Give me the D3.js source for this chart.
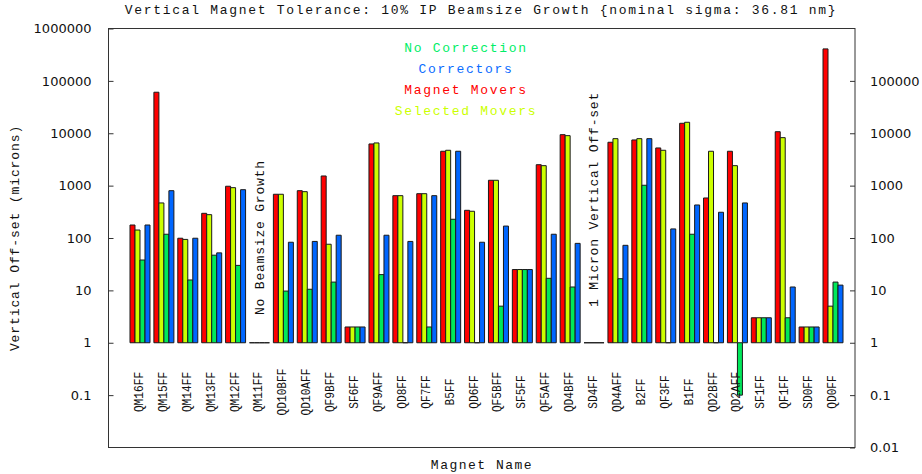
<!DOCTYPE html>
<html>
<head>
<meta charset="utf-8">
<script src="https://cdn.jsdelivr.net/npm/d3@7.9.0/dist/d3.min.js"></script>
<style>
  body { margin: 0; background: #fff; }
  svg { display: block; }
  .mono { font-family: "Liberation Mono", "DejaVu Sans Mono", monospace; }
  .tick text { font-family: "DejaVu Sans", sans-serif; font-size: 13px; fill: #111; }
</style>
</head>
<body>
<svg width="922" height="474"></svg>
<script>
// magnet names along the x axis
const magnets = ['QM16FF', 'QM15FF', 'QM14FF', 'QM13FF', 'QM12FF', 'QM11FF', 'QD10BFF', 'QD10AFF',
  'QF9BFF', 'SF6FF', 'QF9AFF', 'QD8FF', 'QF7FF', 'B5FF', 'QD6FF', 'QF5BFF', 'SF5FF', 'QF5AFF',
  'QD4BFF', 'SD4FF', 'QD4AFF', 'B2FF', 'QF3FF', 'B1FF', 'QD2BFF', 'QD2AFF', 'SF1FF', 'QF1FF',
  'SD0FF', 'QD0FF'];

// tolerances in microns
const magnetMovers = [177, 60700, 99, 296, 973, 1, 684, 801, 1528, 2, 6250, 643, 702, 4530, 338,
  1265, 25, 2510, 9400, 1, 6730, 7450, 5240, 15500, 581, 4530, 3, 10700, 2, 408000];
const selectedMovers = [142, 467, 94, 279, 914, 1, 684, 767, 76, 2, 6530, 643, 702, 4730, 324,
  1265, 25, 2405, 9000, 1, 7880, 7880, 4730, 16200, 4530, 2405, 3, 8240, 2, 5];
const noCorrection = [38, 118, 15.8, 47, 30, 1, 9.7, 10.5, 14.4, 2, 20, 1, 2, 228, 1,
  5, 25, 17, 11.6, 1, 16.7, 1016, 1, 118, 1, 0.1, 3, 3, 2, 14.4];
const correctors = [177, 801, 99, 52, 837, 1, 83, 86, 113, 2, 113, 86, 643, 4530, 83,
  169, 25, 118, 79, 1, 72.5, 7880, 149, 427, 310, 467, 3, 11.6, 2, 12.6];

const leftTicks = [1000000, 100000, 10000, 1000, 100, 10, 1, 0.1];
const rightTicks = [100000, 10000, 1000, 100, 10, 1, 0.1, 0.01];

// drawing order inside a group: left to right
const series = [
  { name: 'Magnet Movers', values: magnetMovers, color: '#ff0000' },
  { name: 'Selected Movers', values: selectedMovers, color: '#ccff00' },
  { name: 'No Correction', values: noCorrection, color: '#00e85a' },
  { name: 'Correctors', values: correctors, color: '#0066ff' }
];
// legend order top to bottom
const legendItems = [
  { name: 'No Correction', color: '#00ee66' },
  { name: 'Correctors', color: '#0a6cff' },
  { name: 'Magnet Movers', color: '#ff0000' },
  { name: 'Selected Movers', color: '#ccff00' }
];

const mLeft = 108.5, mRight = 855, mTop = 28.5, mBottom = 447.5;
const svg = d3.select('svg');

const y = d3.scaleLog().domain([0.01, 1000000]).range([mBottom, mTop]);
const x = d3.scaleLinear().domain([-1.318, 29.92]).range([mLeft, mRight]);
const barW = 5;

// bars, all starting at 1 micron
series.forEach((s, k) => {
  svg.append('g')
    .selectAll('path')
    .data(s.values)
    .join('path')
    .attr('d', (v, i) => {
      const x0 = x(i) - 10 + k * barW;
      const y0 = y(1), y1 = y(v);
      return `M${x0},${y0}V${y1}H${x0 + barW}V${y0}Z`;
    })
    .attr('fill', s.color)
    .attr('stroke', '#1a1a1a')
    .attr('stroke-width', 1);
});

// frame
svg.append('rect')
  .attr('x', mLeft).attr('y', mTop)
  .attr('width', mRight - mLeft).attr('height', mBottom - mTop)
  .attr('fill', 'none').attr('stroke', '#333').attr('stroke-width', 1);

// axes with inward ticks
const leftAxis = d3.axisLeft(y).tickValues(leftTicks).tickSize(-5).tickPadding(17)
  .tickFormat(d3.format('~f'));
svg.append('g').attr('transform', `translate(${mLeft},0)`).call(leftAxis)
  .call(g => g.select('.domain').remove())
  .call(g => g.selectAll('.tick line').attr('stroke', '#333'));

const rightAxis = d3.axisRight(y).tickValues(rightTicks).tickSize(-5).tickPadding(15)
  .tickFormat(d3.format('~f'));
svg.append('g').attr('transform', `translate(${mRight},0)`).call(rightAxis)
  .call(g => g.select('.domain').remove())
  .call(g => g.selectAll('.tick line').attr('stroke', '#333'));

// magnet names (narrow, tall glyphs like the original bitmap font)
svg.append('g')
  .selectAll('text')
  .data(magnets)
  .join('text')
  .attr('class', 'mono')
  .attr('transform', (d, i) => `translate(${x(i) + 3},392) rotate(-90) scale(0.86,1)`)
  .attr('text-anchor', 'middle')
  .attr('font-size', 13)
  .attr('fill', '#111')
  .text(d => d);

// title and axis titles
svg.append('text').attr('class', 'mono')
  .attr('x', 481).attr('y', 14).attr('text-anchor', 'middle')
  .attr('font-size', 13).attr('letter-spacing', 1.7).attr('fill', '#111')
  .text('Vertical Magnet Tolerance: 10% IP Beamsize Growth {nominal sigma: 36.81 nm}');

svg.append('text').attr('class', 'mono')
  .attr('x', 482).attr('y', 469).attr('text-anchor', 'middle')
  .attr('font-size', 13).attr('letter-spacing', 1.5).attr('fill', '#111')
  .text('Magnet Name');

svg.append('text').attr('class', 'mono')
  .attr('transform', 'translate(19,238) rotate(-90)').attr('text-anchor', 'middle')
  .attr('font-size', 13).attr('letter-spacing', 0.9).attr('fill', '#111')
  .text('Vertical Off-set (microns)');

// notes over empty groups
svg.append('text').attr('class', 'mono')
  .attr('transform', `translate(${x(5) + 5},315) rotate(-90)`)
  .attr('font-size', 13).attr('letter-spacing', 0.8).attr('fill', '#111')
  .text('No Beamsize Growth');

svg.append('text').attr('class', 'mono')
  .attr('transform', `translate(${x(19) + 4},307) rotate(-90)`)
  .attr('font-size', 13).attr('letter-spacing', 0.8).attr('fill', '#111')
  .text('1 Micron Vertical Off-set');

// legend
svg.append('g')
  .selectAll('text')
  .data(legendItems)
  .join('text')
  .attr('class', 'mono')
  .attr('x', 466).attr('y', (d, i) => 52 + i * 21)
  .attr('text-anchor', 'middle')
  .attr('font-size', 13).attr('letter-spacing', 1.7)
  .attr('fill', d => d.color)
  .text(d => d.name);
</script>
</body>
</html>
